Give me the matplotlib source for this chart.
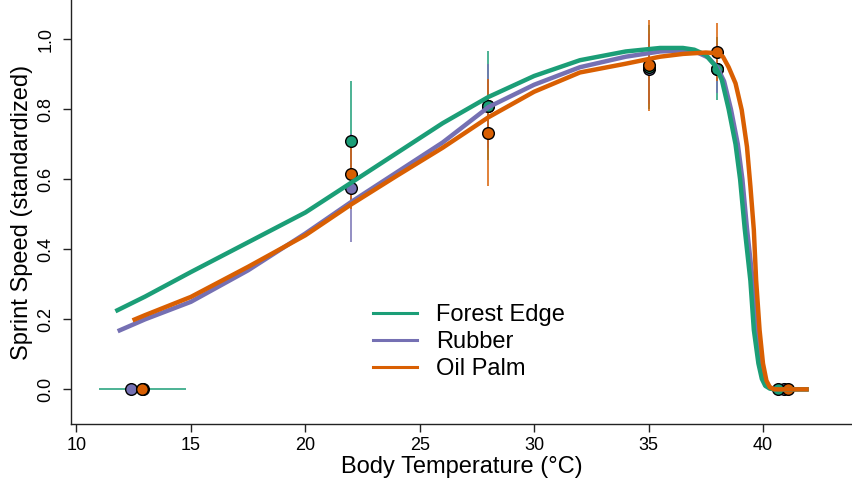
import matplotlib
matplotlib.use('Agg')
import matplotlib.pyplot as plt
from matplotlib.lines import Line2D

plt.rcParams['font.family'] = ['Liberation Sans', 'DejaVu Sans']

groups = ['Forest Edge', 'Rubber', 'Oil Palm']
colors = ['#1b9e77', '#7570b3', '#d95f02']

# fitted performance curves
green_T = [11.7, 13, 15, 17.5, 20, 22, 24, 26, 28, 30, 32, 34, 35.5, 36.5, 37.0, 37.5, 37.9, 38.2,
           38.5, 38.8, 39.0, 39.2, 39.45, 39.6, 39.8, 39.95, 40.1, 40.3, 40.5, 42]
green_S = [0.223, 0.265, 0.335, 0.42, 0.505, 0.59, 0.675, 0.76, 0.835, 0.895, 0.94, 0.965, 0.975,
           0.975, 0.97, 0.955, 0.925, 0.884, 0.80, 0.70, 0.60, 0.46, 0.31, 0.17, 0.074, 0.03,
           0.01, 0.002, 0.0, 0.0]

purple_T = [11.8, 13, 15, 17.5, 20, 22, 24, 26, 28, 30, 32, 34, 35.5, 36.5, 37.1, 37.6, 38.0, 38.3,
            38.6, 38.9, 39.1, 39.3, 39.55, 39.7, 39.9, 40.05, 40.2, 40.4, 40.6, 42]
purple_S = [0.166, 0.2, 0.25, 0.34, 0.445, 0.535, 0.62, 0.705, 0.806, 0.87, 0.92, 0.95, 0.965,
            0.968, 0.963, 0.948, 0.92, 0.88, 0.80, 0.70, 0.60, 0.46, 0.31, 0.17, 0.074, 0.03,
            0.01, 0.002, 0.0, 0.0]

orange_T = [12.45, 13, 15, 17.5, 20, 22, 24, 26, 28, 30, 32, 34, 35.5, 36.5, 37.5, 38.0, 38.25,
            38.5, 38.8, 39.07, 39.3, 39.45, 39.6, 39.7, 39.85, 40.0, 40.15, 40.3, 40.5, 42]
orange_S = [0.197, 0.212, 0.264, 0.35, 0.44, 0.528, 0.61, 0.69, 0.777, 0.85, 0.905, 0.93, 0.95,
            0.958, 0.962, 0.96, 0.95, 0.92, 0.874, 0.798, 0.693, 0.58, 0.455, 0.312, 0.17, 0.074,
            0.025, 0.006, 0.0, 0.0]

# observed means with error bars
green_pT = [12.9, 22, 28, 35, 38, 40.66]
green_pS = [0.0, 0.71, 0.81, 0.92, 0.915, 0.0]
green_yerr = [0.0, 0.17, 0.155, 0.12, 0.09, 0.0]
green_xerr = [1.9, 0, 0, 0, 0, 0]

purple_pT = [12.37, 22, 28, 35, 38, 40.9]
purple_pS = [0.0, 0.575, 0.81, 0.915, 0.915, 0.0]
purple_yerr = [0.0, 0.155, 0.12, 0.1, 0.07, 0.0]

orange_pT = [12.85, 22, 28, 35, 38, 41.1]
orange_pS = [0.0, 0.615, 0.733, 0.925, 0.963, 0.0]
orange_yerr = [0.0, 0.1, 0.153, 0.13, 0.083, 0.0]

xticks = [10, 15, 20, 25, 30, 35, 40]
yticks = [0.0, 0.2, 0.4, 0.6, 0.8, 1.0]

W, H = 852, 486
fig = plt.figure(figsize=(W / 100, H / 100), dpi=100)
ax = fig.add_axes([71 / W, 62 / H, 1 - 71 / W, 424 / H])
ax.set_xlim(9.76, 43.89)
ax.set_ylim(-0.099, 1.112)

# error bars
ax.errorbar(green_pT, green_pS, yerr=green_yerr, xerr=green_xerr, fmt='none',
            ecolor=colors[0], elinewidth=1.1, zorder=2)
ax.errorbar(purple_pT, purple_pS, yerr=purple_yerr, fmt='none',
            ecolor=colors[1], elinewidth=1.1, zorder=2)
ax.errorbar(orange_pT, orange_pS, yerr=orange_yerr, fmt='none',
            ecolor=colors[2], elinewidth=1.1, zorder=2)

# points (purple, then green, then orange on top)
for pT, pS, c in [(purple_pT, purple_pS, colors[1]), (green_pT, green_pS, colors[0]),
                  (orange_pT, orange_pS, colors[2])]:
    ax.plot(pT, pS, 'o', ms=8.4, mfc=c, mec='black', mew=1.0, ls='none', zorder=3)

# curves
for T, S, c, z in [(purple_T, purple_S, colors[1], 4), (green_T, green_S, colors[0], 5),
                   (orange_T, orange_S, colors[2], 6)]:
    ax.plot(T, S, color=c, lw=3.2, solid_joinstyle='round', solid_capstyle='butt', zorder=z)

handles = [Line2D([], [], color=c, lw=2.2) for c in colors]
ax.legend(handles, groups, loc='center left', bbox_to_anchor=(373 / W, 1 - 342 / H),
          bbox_transform=fig.transFigure, frameon=False, fontsize=17, borderpad=0,
          borderaxespad=0, handlelength=1.85, handletextpad=0.82, labelspacing=0.22)

for s in ['top', 'right']:
    ax.spines[s].set_visible(False)
for s in ['left', 'bottom']:
    ax.spines[s].set_linewidth(1.0)
    ax.spines[s].set_color('#222222')

ax.set_xticks(xticks)
ax.set_xticklabels([str(t) for t in xticks])
ax.set_yticks(yticks)
ax.set_yticklabels(['%.1f' % t for t in yticks], rotation=90, va='center')
ax.tick_params(direction='out', length=6, width=1.0, labelsize=13, color='#222222')
ax.tick_params(axis='x', pad=3)
ax.tick_params(axis='y', pad=6)

ax.set_xlabel('Body Temperature (°C)', fontsize=17, labelpad=2)
ax.set_ylabel('Sprint Speed (standardized)', fontsize=17, labelpad=3)

fig.savefig('out.png', dpi=100)
